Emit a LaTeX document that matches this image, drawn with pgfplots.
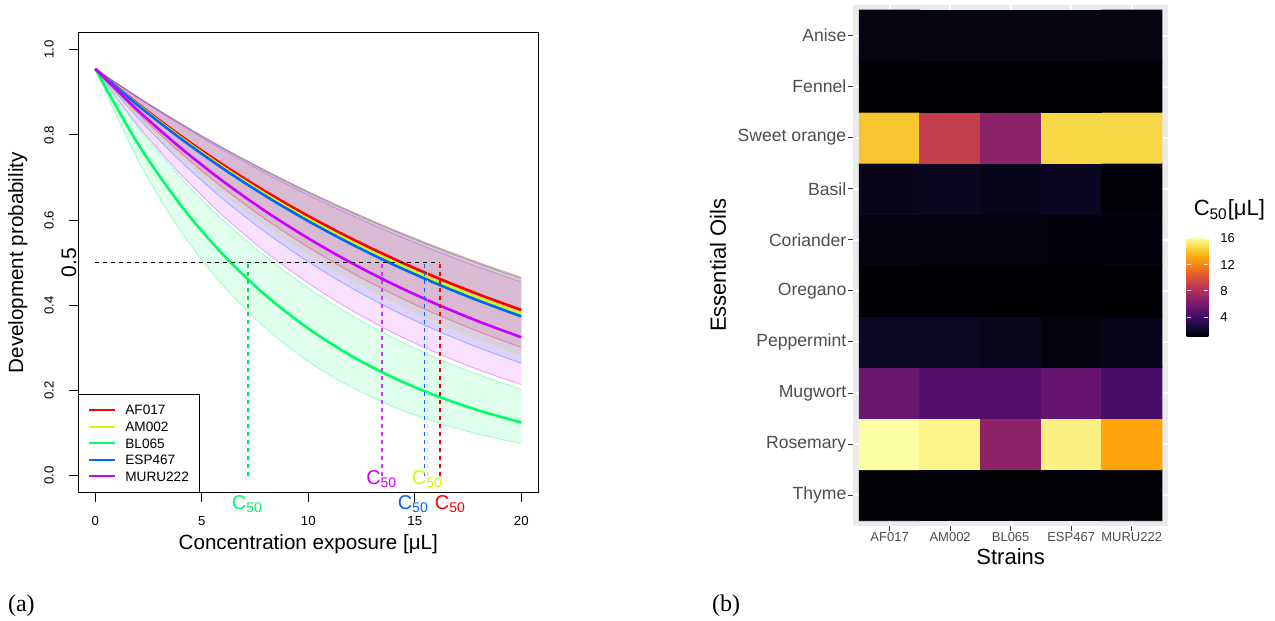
\documentclass[border=0pt]{standalone}
\usepackage{fontspec}
\setmainfont{Liberation Sans}
\newfontfamily\seriffont{Liberation Serif}
\usepackage{pgfplots}
\usepackage{pgfplotstable}
\pgfplotsset{compat=1.18}
\usepgfplotslibrary{fillbetween}
\definecolor{cRed}{HTML}{FF0000}
\definecolor{cYel}{HTML}{CCFF00}
\definecolor{cGrn}{HTML}{00FF66}
\definecolor{cGrnD}{HTML}{00E060}
\definecolor{cBlu}{HTML}{0066FF}
\definecolor{cMag}{HTML}{CC00FF}
\definecolor{panelgrey}{HTML}{EBEBEB}
\definecolor{tickgrey}{HTML}{333333}
\definecolor{labgrey}{HTML}{4D4D4D}

\pgfplotstableread{
x  red    yel    grn    blu    mag
0  0.9550 0.9550 0.9550 0.9550 0.9550
2  0.8730 0.8709 0.7792 0.8695 0.8574
4  0.7980 0.7942 0.6358 0.7917 0.7698
6  0.7295 0.7242 0.5188 0.7209 0.6911
8  0.6668 0.6604 0.4233 0.6564 0.6205
10 0.6096 0.6023 0.3454 0.5977 0.5571
12 0.5572 0.5492 0.2818 0.5442 0.5002
14 0.5094 0.5009 0.2300 0.4955 0.4491
16 0.4656 0.4567 0.1876 0.4512 0.4032
18 0.4256 0.4165 0.1531 0.4108 0.3620
20 0.3891 0.3798 0.1249 0.3740 0.3250
}\meanTable

\pgfplotstableread{
x  ru     rl     yu     yl     bu     bl     mu     ml     gu     gl
0  0.9550 0.9550 0.9550 0.9550 0.9550 0.9550 0.9550 0.9550 0.9550 0.9550
2  0.8888 0.8509 0.8885 0.8457 0.8881 0.8398 0.8868 0.8223 0.8180 0.7409
4  0.8273 0.7582 0.8266 0.7488 0.8259 0.7384 0.8234 0.7080 0.7007 0.5748
6  0.7699 0.6755 0.7690 0.6631 0.7680 0.6493 0.7645 0.6097 0.6002 0.4460
8  0.7166 0.6019 0.7155 0.5872 0.7142 0.5710 0.7099 0.5250 0.5142 0.3460
10 0.6670 0.5363 0.6656 0.5199 0.6642 0.5021 0.6592 0.4520 0.4404 0.2685
12 0.6208 0.4778 0.6193 0.4604 0.6177 0.4415 0.6121 0.3892 0.3773 0.2083
14 0.5777 0.4257 0.5761 0.4077 0.5744 0.3882 0.5683 0.3351 0.3232 0.1616
16 0.5377 0.3793 0.5360 0.3610 0.5342 0.3414 0.5277 0.2886 0.2768 0.1254
18 0.5005 0.3380 0.4987 0.3197 0.4968 0.3002 0.4900 0.2485 0.2371 0.0973
20 0.4658 0.3011 0.4639 0.2831 0.4620 0.2640 0.4550 0.2139 0.2031 0.0755
}\bandTable

\pgfplotstableread{
x y c
1 1 1.12
2 1 1.12
3 1 1.12
4 1 1.12
5 1 1.12
1 2 16.15
2 2 15.7
3 2 6.9
4 2 15.6
5 2 13.1
1 3 5.6
2 3 4.8
3 3 4.7
4 3 5.4
5 3 4.35
1 4 1.95
2 4 1.97
3 4 1.8
4 4 1.3
5 4 1.6
1 5 1.05
2 5 1.05
3 5 1.05
4 5 1.05
5 5 1.05
1 6 1.3
2 6 1.3
3 6 1.3
4 6 1.25
5 6 1.25
1 7 1.75
2 7 1.88
3 7 1.7
4 7 1.9
5 7 1.15
1 8 14.1
2 8 9.0
3 8 6.8
4 8 14.65
5 8 14.65
1 9 1.06
2 9 1.06
3 9 1.06
4 9 1.06
5 9 1.06
1 10 1.45
2 10 1.45
3 10 1.45
4 10 1.45
5 10 1.45
}\heatTable

\begin{document}
\begin{tikzpicture}
\path (0,0) rectangle (637.5pt,310.5pt);

% ---------------- left panel ----------------
\begin{axis}[
  at={(39.15pt,64.15pt)}, anchor=south west,
  scale only axis, width=230pt, height=230pt,
  xmin=-0.8, xmax=20.8, ymin=-0.04, ymax=1.04,
  clip=false,
  xtick={0,5,10,15,20}, xticklabels={0,5,10,15,20},
  ytick={0,0.2,0.4,0.6,0.8,1}, yticklabels={0.0,0.2,0.4,0.6,0.8,1.0},
  tick align=outside, xtick pos=left, ytick pos=left,
  major tick length=4.5pt,
  tick style={black, line width=0.5pt},
  axis line style={black, line width=0.5pt},
  ticklabel style={font=\fontsize{6.6}{8}\selectfont},
  xticklabel shift=3.75pt,
  yticklabel shift=4.2pt,
  yticklabel style={rotate=90, anchor=south},
  xlabel={Concentration exposure [μL]},
  ylabel={Development probability},
  label style={font=\fontsize{10.3}{12}\selectfont},
  xlabel style={at={(axis description cs:0.5,-0.1115)}, anchor=center},
  ylabel style={at={(axis description cs:-0.1313,0.5)}, anchor=center, rotate=0},
  legend style={at={(0,0)}, anchor=south west, draw=black, line width=0.5pt,
    fill=white, inner xsep=4.4pt, inner ysep=4.4pt, row sep=1.4pt, column sep=3.6pt,
    font=\fontsize{6.8}{8}\selectfont,
    nodes={inner sep=1pt, text height=4.9pt, text depth=0pt}},
  legend cell align=left,
  legend image code/.code={\draw[#1] (0pt,0pt) -- (13.3pt,0pt);},
]
\addlegendimage{cRed, line width=1pt}\addlegendentry{AF017}
\addlegendimage{cYel, line width=1pt}\addlegendentry{AM002}
\addlegendimage{cGrn, line width=1pt}\addlegendentry{BL065}
\addlegendimage{cBlu, line width=1pt}\addlegendentry{ESP467}
\addlegendimage{cMag, line width=1pt}\addlegendentry{MURU222}

% bands
\addplot[name path=ru, smooth, draw=cRed, draw opacity=0.3, line width=0.5pt, forget plot] table[x=x,y=ru]{\bandTable};
\addplot[name path=rl, smooth, draw=cRed, draw opacity=0.3, line width=0.5pt, forget plot] table[x=x,y=rl]{\bandTable};
\addplot[name path=yu, smooth, draw=gray, draw opacity=0.4, line width=0.5pt, forget plot] table[x=x,y=yu]{\bandTable};
\addplot[name path=yl, smooth, draw=cYel, draw opacity=0.3, line width=0.5pt, forget plot] table[x=x,y=yl]{\bandTable};
\addplot[name path=bu, smooth, draw=cBlu, draw opacity=0.3, line width=0.5pt, forget plot] table[x=x,y=bu]{\bandTable};
\addplot[name path=bl, smooth, draw=cBlu, draw opacity=0.3, line width=0.5pt, forget plot] table[x=x,y=bl]{\bandTable};
\addplot[name path=mu, smooth, draw=cMag, draw opacity=0.3, line width=0.5pt, forget plot] table[x=x,y=mu]{\bandTable};
\addplot[name path=ml, smooth, draw=cMag, draw opacity=0.3, line width=0.5pt, forget plot] table[x=x,y=ml]{\bandTable};
\addplot[name path=gu, smooth, draw=cGrn, draw opacity=0.3, line width=0.5pt, forget plot] table[x=x,y=gu]{\bandTable};
\addplot[name path=gl, smooth, draw=cGrn, draw opacity=0.3, line width=0.5pt, forget plot] table[x=x,y=gl]{\bandTable};
\addplot[fill=cRed, fill opacity=0.12, draw=none, forget plot] fill between[of=ru and rl];
\addplot[fill=cYel, fill opacity=0.12, draw=none, forget plot] fill between[of=yu and yl];
\addplot[fill=cGrn, fill opacity=0.12, draw=none, forget plot] fill between[of=gu and gl];
\addplot[fill=cBlu, fill opacity=0.12, draw=none, forget plot] fill between[of=bu and bl];
\addplot[fill=cMag, fill opacity=0.12, draw=none, forget plot] fill between[of=mu and ml];

% mean curves
\addplot[cRed, line width=1.3pt, smooth, forget plot] table[x=x,y=red]{\meanTable};
\addplot[cYel, line width=1.3pt, smooth, forget plot] table[x=x,y=yel]{\meanTable};
\addplot[cGrn, line width=1.3pt, smooth, forget plot] table[x=x,y=grn]{\meanTable};
\addplot[cBlu, line width=1.3pt, smooth, forget plot] table[x=x,y=blu]{\meanTable};
\addplot[cMag, line width=1.3pt, smooth, forget plot] table[x=x,y=mag]{\meanTable};

% C50 reference lines
\addplot[black, line width=0.55pt, dash pattern=on 2pt off 2pt, forget plot] coordinates {(0,0.5) (16.18,0.5)};
\addplot[color=cGrnD, line width=0.9pt, dash pattern=on 2pt off 2pt, forget plot] coordinates {(7.15,0) (7.15,0.5)};
\addplot[cMag!80, line width=1pt, dash pattern=on 2pt off 2pt, forget plot] coordinates {(13.47,0) (13.47,0.5)};
\addplot[cBlu, line width=0.7pt, dash pattern=on 2pt off 2pt, forget plot] coordinates {(15.47,0) (15.47,0.5)};
\addplot[cYel, line width=0.7pt, dash pattern=on 2pt off 2pt, forget plot] coordinates {(15.61,0) (15.61,0.5)};
\addplot[cRed, line width=0.7pt, dash pattern=on 2pt off 2pt, forget plot] coordinates {(16.18,0) (16.18,0.5)};

\node[rotate=90, font=\fontsize{10.5}{12}\selectfont] at (axis cs:-1.24,0.5) {0.5};
\node[text=cMag, font=\fontsize{10}{12}\selectfont] at (axis cs:13.45,-0.007) {C\textsubscript{50}};
\node[text=cYel, font=\fontsize{10}{12}\selectfont] at (axis cs:15.59,-0.007) {C\textsubscript{50}};
\node[text=cGrn, font=\fontsize{10}{12}\selectfont] at (axis cs:7.14,-0.066) {C\textsubscript{50}};
\node[text=cBlu, font=\fontsize{10}{12}\selectfont] at (axis cs:14.93,-0.066) {C\textsubscript{50}};
\node[text=cRed, font=\fontsize{10}{12}\selectfont] at (axis cs:16.67,-0.066) {C\textsubscript{50}};
\end{axis}

% ---------------- right panel ----------------
\begin{axis}[
  at={(426.65pt,47.6pt)}, anchor=south west,
  scale only axis, width=157.35pt, height=260.45pt,
  xmin=0.4, xmax=5.6, ymin=0.4, ymax=10.6,
  axis background/.style={fill=panelgrey},
  axis line style={draw=none},
  xtick={1,2,3,4,5}, xticklabels={AF017,AM002,BL065,ESP467,MURU222},
  ytick={1,2,3,4,5,6,7,8,9,10},
  yticklabels={Thyme,Rosemary,Mugwort,Peppermint,Oregano,Coriander,Basil,Sweet orange,Fennel,Anise},
  xtick pos=left, ytick pos=left,
  tick align=outside, major tick length=2.5pt,
  tick style={draw=tickgrey, line width=0.5pt},
  xticklabel style={font=\fontsize{6.5}{7}\selectfont, text=labgrey, inner sep=0.45pt},
  yticklabel style={font=\fontsize{8.8}{10}\selectfont, text=labgrey, inner sep=0.8pt},
  grid=major, grid style={white, line width=1pt},
  xlabel={Strains}, ylabel={Essential Oils},
  label style={font=\fontsize{11}{13}\selectfont},
  xlabel style={at={(axis description cs:0.5,-0.0599)}, anchor=center},
  ylabel style={at={(axis description cs:-0.4296,0.5)}, anchor=center, rotate=0},
  colormap={inferno}{rgb255=(0,0,4) rgb255=(22,11,57) rgb255=(66,10,104) rgb255=(106,23,110) rgb255=(147,38,103) rgb255=(188,55,84) rgb255=(221,81,58) rgb255=(243,120,25) rgb255=(252,165,10) rgb255=(246,215,70) rgb255=(252,255,164)},
  point meta min=1.05, point meta max=16.15,
  colorbar,
  colorbar style={
    at={(1.0594,0.363)}, anchor=south west,
    scale only axis, width=10.8pt, height=49.7pt,
    ytick={4,8,12,16}, yticklabels={4,8,12,16},
    yticklabel style={font=\fontsize{6.5}{7}\selectfont, text=black, inner sep=0pt, xshift=5.85pt},
    tick align=inside, major tick length=2.2pt,
    tick style={white, line width=0.5pt},
    ytick pos=both, yticklabel pos=right,
    axis line style={draw=none},
  },
]
\addplot[matrix plot*, mesh/cols=5, point meta=explicit] table[x=x, y=y, meta=c]{\heatTable};
\end{axis}

\node[anchor=base west, font=\fontsize{11}{13}\selectfont] at (593.35pt,202.5pt) {C\textsubscript{50}[μL]};

\node[anchor=base west, font=\seriffont\fontsize{12}{14}\selectfont] at (0.5pt,4.5pt) {(a)};
\node[anchor=base west, font=\seriffont\fontsize{12}{14}\selectfont] at (352.5pt,4.5pt) {(b)};
\pgfresetboundingbox
\useasboundingbox (0,0) rectangle (637.5pt,310.5pt);
\end{tikzpicture}
\end{document}
